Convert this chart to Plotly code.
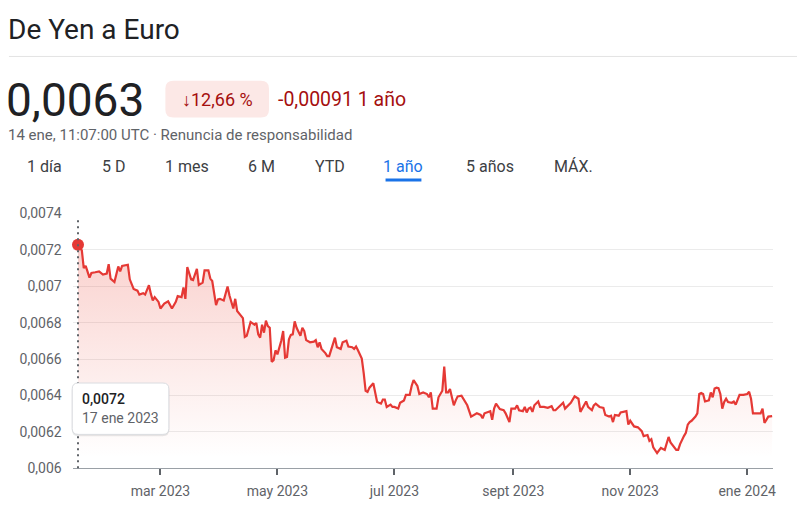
import pandas as pd
import plotly.graph_objects as go

W, H = 800, 517

# ---------------- data ----------------
start_date = "2023-01-17"
day_offset = [0, 2, 3, 4, 6, 7, 9, 11, 13, 15, 16, 17, 19, 21, 22, 23, 26, 27, 29, 31,
              32, 34, 35, 37, 38, 39, 40, 42, 43, 45, 47, 48, 49, 51, 52, 54, 55, 56, 57, 59,
              60, 62, 63, 65, 66, 68, 69, 70, 72, 73, 74, 76, 78, 79, 81, 82, 83, 86, 87, 88,
              90, 92, 93, 94, 95, 96, 97, 98, 99, 100, 101, 102, 103, 104, 106, 107, 108, 109, 110, 111,
              112, 113, 114, 116, 117, 118, 119, 121, 123, 124, 125, 126, 127, 129, 130, 131, 132, 134, 135, 137,
              138, 140, 141, 143, 144, 145, 146, 148, 149, 150, 151, 152, 154, 155, 156, 158, 159, 160, 161, 163,
              164, 165, 167, 168, 170, 171, 173, 174, 175, 177, 178, 180, 182, 183, 184, 185, 187, 188, 190, 191,
              192, 193, 194, 195, 196, 197, 198, 200, 202, 203, 205, 206, 208, 210, 211, 212, 214, 215, 216, 217,
              218, 219, 220, 222, 223, 225, 226, 228, 229, 230, 232, 233, 234, 235, 236, 237, 238, 240, 241, 243,
              245, 247, 248, 249, 251, 253, 254, 255, 257, 259, 261, 262, 264, 265, 266, 268, 269, 270, 272, 274,
              275, 277, 278, 279, 280, 282, 283, 285, 286, 287, 288, 290, 292, 294, 295, 297, 298, 299, 300, 302,
              303, 304, 306, 307, 308, 309, 311, 312, 313, 314, 316, 317, 318, 319, 320, 322, 323, 324, 325, 326,
              327, 329, 330, 331, 332, 333, 334, 335, 336, 337, 338, 339, 341, 342, 343, 344, 345, 347, 349, 350,
              351, 352, 354, 356, 357, 358, 359, 360, 362]
rate = [0.007228, 0.007197, 0.007100, 0.007112, 0.007047, 0.007073, 0.007077, 0.007082, 0.007064, 0.007070,
        0.007121, 0.007042, 0.007023, 0.007109, 0.007082, 0.007112, 0.007118, 0.007038, 0.006985, 0.006976,
        0.006954, 0.006962, 0.006954, 0.007006, 0.006958, 0.006922, 0.006940, 0.006914, 0.006878, 0.006905,
        0.006917, 0.006896, 0.006878, 0.006914, 0.006946, 0.006940, 0.006994, 0.006931, 0.007105, 0.007038,
        0.007034, 0.007095, 0.007007, 0.007020, 0.007087, 0.007087, 0.007042, 0.007029, 0.006896, 0.006928,
        0.006931, 0.006922, 0.006999, 0.006949, 0.006878, 0.006931, 0.006864, 0.006825, 0.006722, 0.006728,
        0.006804, 0.006789, 0.006798, 0.006736, 0.006718, 0.006789, 0.006745, 0.006811, 0.006781, 0.006772,
        0.006585, 0.006594, 0.006648, 0.006626, 0.006701, 0.006754, 0.006608, 0.006612, 0.006709, 0.006733,
        0.006736, 0.006807, 0.006772, 0.006728, 0.006772, 0.006754, 0.006704, 0.006692, 0.006696, 0.006704,
        0.006665, 0.006692, 0.006656, 0.006633, 0.006616, 0.006616, 0.006648, 0.006718, 0.006665, 0.006656,
        0.006692, 0.006701, 0.006669, 0.006665, 0.006656, 0.006669, 0.006648, 0.006603, 0.006523, 0.006426,
        0.006420, 0.006443, 0.006467, 0.006417, 0.006364, 0.006355, 0.006378, 0.006378, 0.006337, 0.006350,
        0.006337, 0.006337, 0.006328, 0.006360, 0.006373, 0.006403, 0.006403, 0.006452, 0.006484, 0.006452,
        0.006408, 0.006417, 0.006408, 0.006390, 0.006417, 0.006328, 0.006328, 0.006390, 0.006426, 0.006559,
        0.006417, 0.006417, 0.006435, 0.006390, 0.006346, 0.006373, 0.006395, 0.006399, 0.006364, 0.006346,
        0.006284, 0.006289, 0.006302, 0.006293, 0.006275, 0.006302, 0.006310, 0.006314, 0.006266, 0.006328,
        0.006355, 0.006337, 0.006325, 0.006319, 0.006302, 0.006254, 0.006328, 0.006328, 0.006346, 0.006319,
        0.006314, 0.006337, 0.006307, 0.006328, 0.006334, 0.006310, 0.006346, 0.006367, 0.006337, 0.006337,
        0.006332, 0.006341, 0.006319, 0.006319, 0.006337, 0.006360, 0.006328, 0.006337, 0.006360, 0.006395,
        0.006382, 0.006310, 0.006350, 0.006367, 0.006337, 0.006319, 0.006346, 0.006355, 0.006337, 0.006332,
        0.006293, 0.006284, 0.006289, 0.006254, 0.006293, 0.006289, 0.006307, 0.006314, 0.006314, 0.006240,
        0.006261, 0.006230, 0.006225, 0.006204, 0.006177, 0.006183, 0.006151, 0.006160, 0.006115, 0.006084,
        0.006097, 0.006112, 0.006101, 0.006133, 0.006172, 0.006142, 0.006115, 0.006101, 0.006101, 0.006133,
        0.006177, 0.006195, 0.006240, 0.006254, 0.006261, 0.006284, 0.006302, 0.006408, 0.006414, 0.006408,
        0.006367, 0.006373, 0.006417, 0.006390, 0.006438, 0.006443, 0.006440, 0.006408, 0.006328, 0.006364,
        0.006382, 0.006364, 0.006360, 0.006367, 0.006350, 0.006373, 0.006403, 0.006403, 0.006408, 0.006420,
        0.006382, 0.006302, 0.006302, 0.006302, 0.006328, 0.006249, 0.006266, 0.006284, 0.006287]

y_tick_vals = [0.0074, 0.0072, 0.0070, 0.0068, 0.0066, 0.0064, 0.0062, 0.0060]
y_tick_text = ["0,0074", "0,0072", "0,007", "0,0068", "0,0066", "0,0064", "0,0062", "0,006"]
x_tick_vals = ["2023-03-01", "2023-05-01", "2023-07-01", "2023-09-01", "2023-11-01", "2024-01-01"]
x_tick_text = ["mar 2023", "may 2023", "jul 2023", "sept 2023", "nov 2023", "ene 2024"]
x_range = ["2023-01-14 06:00", "2024-01-14 12:00"]
y_range = [0.0060, 0.0074]

tabs = ["1 día", "5 D", "1 mes", "6 M", "YTD", "1 año", "5 años", "MÁX."]
tab_centers_px = [45, 114, 188, 262, 331, 405, 492, 576]
active_tab = "1 año"

dates = pd.to_datetime(start_date) + pd.to_timedelta(day_offset, unit="D")

# ---------------- helpers ----------------
def px(x):
    return x / W

def py(y):
    return 1 - y / H

def rrect(x0, y0, x1, y1, r):
    return (f"M {px(x0+r)},{py(y0)} L {px(x1-r)},{py(y0)} "
            f"Q {px(x1)},{py(y0)} {px(x1)},{py(y0+r)} "
            f"L {px(x1)},{py(y1-r)} Q {px(x1)},{py(y1)} {px(x1-r)},{py(y1)} "
            f"L {px(x0+r)},{py(y1)} Q {px(x0)},{py(y1)} {px(x0)},{py(y1-r)} "
            f"L {px(x0)},{py(y0+r)} Q {px(x0)},{py(y0)} {px(x0+r)},{py(y0)} Z")

RED = "#e53935"
FONT = "Roboto"

fig = go.Figure()
fig.add_trace(go.Scatter(
    x=dates, y=rate, mode="lines",
    line=dict(color=RED, width=2.2),
    fill="tozeroy",
    fillgradient=dict(type="vertical",
                      colorscale=[[0, "rgba(234,67,53,0)"], [1, "rgba(234,67,53,0.26)"]],
                      start=0.0061, stop=0.0073),
    hoverinfo="skip", showlegend=False,
))
fig.add_trace(go.Scatter(
    x=[dates[0]], y=[rate[0]], mode="markers",
    marker=dict(color=RED, size=12),
    hoverinfo="skip", showlegend=False, cliponaxis=False,
))

shapes = []
shapes.append(dict(type="line", xref="x", yref="paper", x0=dates[0], x1=dates[0],
                   y0=py(475), y1=py(217), line=dict(color="#5f6368", width=2, dash="2px,4px"),
                   layer="above"))
shapes.append(dict(type="path", xref="paper", yref="paper", path=rrect(72, 388, 170, 442, 7),
                   fillcolor="rgba(60,64,67,0.12)", line=dict(width=0), layer="above"))
shapes.append(dict(type="path", xref="paper", yref="paper", path=rrect(72.5, 387, 169.5, 440, 6),
                   fillcolor="white", line=dict(color="#dadce0", width=1), layer="above"))
shapes.append(dict(type="line", xref="paper", yref="paper", x0=px(9), x1=px(800), y0=py(50), y1=py(50),
                   line=dict(color="#e3e3e3", width=1)))
shapes.append(dict(type="path", xref="paper", yref="paper", path=rrect(166, 75, 270, 113, 8),
                   fillcolor="#fce8e6", line=dict(width=0)))
ai = tabs.index(active_tab)
shapes.append(dict(type="line", xref="paper", yref="paper",
                   x0=px(tab_centers_px[ai] - 18), x1=px(tab_centers_px[ai] + 18),
                   y0=py(177.5), y1=py(177.5), line=dict(color="#1a73e8", width=3)))

ann = []
def text(x, y, s, size, color, xanchor="left", weight=None):
    f = dict(family=FONT, size=size, color=color)
    if weight:
        f["weight"] = weight
    ann.append(dict(xref="paper", yref="paper", x=px(x), y=py(y), text=s, showarrow=False,
                    xanchor=xanchor, yanchor="middle", font=f))

text(6, 22, "De Yen a Euro", 28, "#202124")
text(4, 95, "0,0063", 46, "#202124")
text(218, 94, "↓12,66 %", 18, "#a50e0e", xanchor="center")
text(277, 94, "-0,00091 1 año", 19.5, "#a50e0e")
text(6, 131, "14 ene, 11:07:00 UTC · Renuncia de responsabilidad", 15, "#5f6368")
for t, c in zip(tabs, tab_centers_px):
    text(c, 164, t, 16, "#1a73e8" if t == active_tab else "#3c4043", xanchor="center")

val_txt = f"{rate[0]:.4f}".replace(".", ",")
meses = ["ene", "feb", "mar", "abr", "may", "jun", "jul", "ago", "sept", "oct", "nov", "dic"]
d0 = dates[0]
date_txt = f"{d0.day} {meses[d0.month-1]} {d0.year}"
text(80, 404, val_txt, 14, "#202124", weight=500)
text(80, 423, date_txt, 14, "#5f6368")

fig.update_layout(
    width=W, height=H,
    margin=dict(l=0, r=0, t=0, b=0),
    paper_bgcolor="white", plot_bgcolor="white",
    hovermode=False,
    shapes=shapes, annotations=ann,
    xaxis=dict(domain=[px(73), px(776)], type="date", range=x_range,
               tickvals=x_tick_vals, ticktext=x_tick_text,
               showgrid=False, zeroline=False,
               showline=True, linecolor="#9aa0a6", linewidth=1,
               ticks="outside", ticklen=6, tickwidth=2, tickcolor="#5f6368",
               tickfont=dict(family=FONT, size=14, color="#5f6368"),
               ticklabelstandoff=4),
    yaxis=dict(domain=[py(475), py(212)], range=y_range,
               tickvals=y_tick_vals, ticktext=y_tick_text,
               showgrid=True, gridcolor="#ebebeb", gridwidth=1,
               zeroline=False, showline=False, ticks="",
               tickfont=dict(family=FONT, size=14, color="#5f6368"),
               ticklabelstandoff=10),
)

fig.write_html("out.html", config={"displayModeBar": False},
               post_script="document.body.style.margin='0';document.body.style.overflow='hidden';")
